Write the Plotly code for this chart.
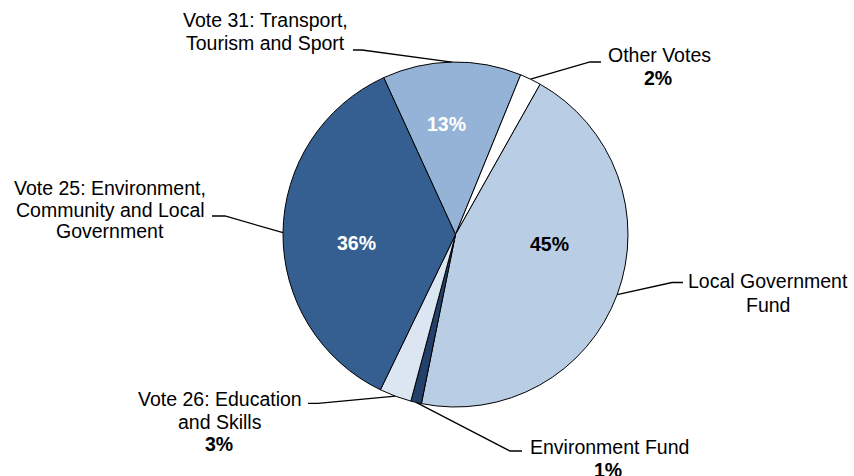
import math
import plotly.graph_objects as go

# Share of expenditure by vote / fund (percent)
categories = [
    "Vote 31: Transport, Tourism and Sport",
    "Other Votes",
    "Local Government Fund",
    "Environment Fund",
    "Vote 26: Education and Skills",
    "Vote 25: Environment, Community and Local Government",
]
shares = [13, 2, 45, 1, 3, 36]
slice_colors = ["#95B3D7", "#FFFFFF", "#B9CDE5", "#23406A", "#DCE6F2", "#365F91"]

# Outside label text, broken into lines as they are displayed
label_lines = [
    ["Vote 31: Transport,", "Tourism and Sport"],
    ["Other Votes"],
    ["Local Government", "Fund"],
    ["Environment Fund"],
    ["Vote 26: Education", "and Skills"],
    ["Vote 25: Environment,", "Community and Local", "Government"],
]

# ---- layout geometry (pixels) ----
W, H = 854, 476
CX, CY, R = 455.5, 234.5, 172.5
START = -24.6  # angle of the first slice edge, clockwise from 12 o'clock
FONT = "Liberation Sans, Arial, sans-serif"
FS = 19.5


def px(x):
    return x / W


def py(y):
    return 1 - y / H


fig = go.Figure(
    go.Pie(
        labels=categories,
        values=shares,
        sort=False,
        direction="clockwise",
        rotation=START,
        marker=dict(colors=slice_colors, line=dict(color="#000000", width=1)),
        textinfo="none",
        hoverinfo="label+percent",
        domain=dict(x=[px(CX - R), px(CX + R)], y=[py(CY + R), py(CY - R)]),
        showlegend=False,
    )
)

# mid-angle of each slice, from the data
total = sum(shares)
mids = []
acc = START
for v in shares:
    span = 360.0 * v / total
    mids.append(acc + span / 2)
    acc += span


def rim(i):
    a = math.radians(mids[i])
    return CX + R * math.sin(a), CY - R * math.cos(a)


# leader lines: rim point -> elbow -> end of horizontal tick
leaders = {
    0: [(362, 50), (353, 50)],
    1: [(590, 62), (601, 62)],
    2: [(672, 282.5), (683, 282.5)],
    3: [(510, 451), (522, 451)],
    4: [(318, 403.3), (308, 403.3)],
    5: [(225, 216), (212, 216)],
}
shapes = []
for i, pts in leaders.items():
    x0, y0 = rim(i)
    path = f"M{px(x0)},{py(y0)} L{px(pts[0][0])},{py(pts[0][1])} L{px(pts[1][0])},{py(pts[1][1])}"
    shapes.append(dict(type="path", xref="paper", yref="paper", path=path,
                       line=dict(color="#000000", width=1.3)))

# label anchors: (centre x, vertical centre of first line, line step)
label_pos = {
    0: (265, 20.5, 22.5),
    1: (659, 55.3, 23),
    2: (768, 281, 24),
    3: (609, 446.7, 23),
    4: (220, 399, 22.6),
    5: (110, 188, 21.6),
}
# slices whose percentage is printed beneath the outside label
pct_outside = {1, 3, 4}
# slices with the percentage printed inside: (x, y, colour)
pct_inside = {0: (446, 124, "#FFFFFF"), 5: (356, 243, "#FFFFFF"), 2: (549, 244, "#000000")}

annotations = []


def add_text(text, x, y, color="#000000"):
    annotations.append(dict(
        text=text, x=px(x), y=py(y), xref="paper", yref="paper",
        xanchor="center", yanchor="middle", showarrow=False,
        font=dict(family=FONT, size=FS, color=color),
    ))


for i, lines in enumerate(label_lines):
    x, y0, step = label_pos[i]
    for k, line in enumerate(lines):
        add_text(line, x, y0 + k * step)
    if i in pct_outside:
        add_text(f"<b>{shares[i]}%</b>", x - 1, y0 + len(lines) * step)

for i, (x, y, c) in pct_inside.items():
    add_text(f"<b>{shares[i]}%</b>", x, y, c)

fig.update_layout(
    width=W, height=H,
    margin=dict(l=0, r=0, t=0, b=0),
    paper_bgcolor="#FFFFFF",
    plot_bgcolor="#FFFFFF",
    shapes=shapes,
    annotations=annotations,
)

fig.write_html("out.html")
